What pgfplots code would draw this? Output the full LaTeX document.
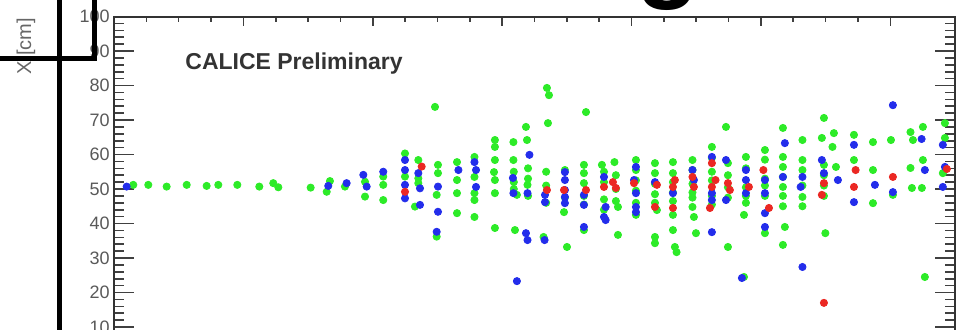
\documentclass[border=0pt]{standalone}
\usepackage{pgfplots}
\pgfplotsset{compat=1.18}
\usepackage{fontspec}
\setmainfont{Liberation Sans}
\definecolor{rgreen}{RGB}{45,235,40}
\definecolor{rblue}{RGB}{35,45,235}
\definecolor{rred}{RGB}{235,40,35}
\begin{document}
\begin{tikzpicture}[x=0.5pt,y=0.5pt]
\begin{scope}
\clip (0,0) rectangle (956,329);
\begin{axis}[
  at={(57pt,-16.25pt)}, anchor=south west,
  width=420.5pt, height=172.5pt, scale only axis,
  xmin=0, xmax=65, ymin=0, ymax=100,
  xtick={0,10,...,60}, minor x tick num=3,
  ytick={0,10,...,100}, minor y tick num=4,
  xticklabel=\empty,
  tick align=inside,
  axis line style={black!80, line width=1pt},
  every tick/.style={black!75, line width=0.8pt},
  xtick style={/pgfplots/major tick length=4.5pt,/pgfplots/minor tick length=2.5pt},
  ytick style={/pgfplots/major tick length=10pt,/pgfplots/minor tick length=5pt},
  /pgf/number format/assume math mode=true,
  yticklabel style={font=\fontsize{9}{9}\selectfont, text=black!65, inner sep=2pt},
  clip=false,
]
\addplot[only marks, mark=*, mark size=1.8pt, color=rgreen, mark options={draw=rgreen, fill=rgreen}] coordinates {
(1.49,51.2) (2.65,51.2) (4.07,50.7) (5.62,51.2) (7.16,50.9) (8.06,51.2) (9.53,51.2) (11.23,50.7) (12.31,51.7) (12.70,50.5)
(15.20,50.4) (16.44,49.2) (16.69,52.3) (17.85,50.7) (19.40,52.1) (19.40,47.8) (20.81,53.6) (20.81,51.2) (20.81,46.8)
(22.49,60.3) (22.49,53.6) (23.52,58.4) (23.52,53.1) (23.52,51.7) (23.26,44.9) (25.04,57.0) (25.04,54.6) (24.94,48.3)
(24.94,36.2) (24.81,73.8) (26.51,57.8) (26.51,52.6) (26.51,48.8) (26.51,43.0) (27.86,59.3) (27.86,53.5) (27.86,48.8)
(27.86,46.8) (27.86,41.9) (29.44,64.2) (29.44,62.2) (29.44,58.4) (29.37,54.9) (29.44,52.6) (29.44,48.8) (29.44,38.7)
(30.87,63.6) (30.87,58.4) (31.14,48.3) (30.99,38.1) (31.84,68.0) (31.92,64.2) (31.96,51.2) (33.46,79.3) (33.62,77.2)
(33.54,69.1) (33.20,36.1) (34.78,43.3) (35.01,33.2) (36.48,72.3) (36.32,54.6) (36.32,51.7) (36.32,38.1) (37.71,57.0)
(38.68,57.8) (38.95,44.8) (38.95,36.7) (40.34,58.4) (41.81,57.5) (41.81,54.6) (41.96,43.9) (41.81,36.1) (41.81,34.3)
(43.20,57.8) (43.20,54.6) (43.20,38.1) (43.35,33.2) (43.48,31.7) (44.71,58.4) (44.71,44.8) (44.82,41.9) (44.98,37.2)
(46.21,62.2) (47.30,68.0) (47.45,33.2) (48.84,59.3) (48.69,42.5) (48.69,24.5) (50.31,61.3) (50.31,37.2) (51.70,67.7)
(51.70,59.3) (51.70,56.4) (51.70,50.6) (51.85,39.0) (51.70,33.8) (53.21,64.2) (53.21,58.4) (53.21,47.7) (54.87,70.6)
(54.71,64.8) (55.53,62.2) (54.87,57.0) (54.98,37.2) (55.80,56.4) (55.64,66.2) (57.19,65.7) (57.19,58.4) (58.66,63.6)
(58.66,55.5) (58.66,45.9) (60.05,64.2) (60.20,48.3) (61.56,66.5) (61.75,64.2) (61.56,56.1) (61.67,50.3) (62.52,68.0)
(62.52,58.4) (62.44,50.3) (62.67,24.5) (64.22,69.1) (64.22,64.8) (64.06,54.6)
(34.85,55.5) (34.85,47.5) (36.32,57.0) (36.32,48.0) (36.32,45.5) (37.87,55.0) (37.87,52.0) (37.87,47.0) (37.87,44.0)
(38.79,54.0) (38.79,50.0) (38.79,46.5) (40.34,55.5) (40.34,52.5) (40.34,49.5) (40.34,46.0) (40.34,42.5)
(41.81,51.5) (41.81,48.5) (41.81,46.0) (43.20,52.0) (43.20,49.0) (43.20,46.5) (43.20,42.5)
(44.71,55.5) (44.71,51.5) (44.71,49.0) (44.71,47.5) (46.21,59.0) (46.21,55.0) (46.21,52.5) (46.21,48.0) (46.21,45.5)
(47.45,57.5) (47.45,54.0) (47.45,50.5) (47.45,47.5) (48.84,56.0) (48.84,50.5) (48.84,48.0) (48.84,46.0)
(50.31,58.5) (50.31,53.0) (50.31,51.0) (50.31,48.0) (51.70,53.5) (51.70,48.0) (51.70,45.0)
(53.21,55.5) (53.21,51.0) (53.21,45.0) (54.87,54.0) (54.87,51.0) (54.87,48.0)
(32.0,56.0) (32.0,53.0) (32.0,48.0) (33.4,55.0) (33.4,51.0) (33.4,46.0) (30.9,55.0) (30.9,52.0) (30.9,50.0)
};
\addplot[only marks, mark=*, mark size=1.8pt, color=rblue, mark options={draw=rblue, fill=rblue}] coordinates {
(0.98,50.7) (16.56,50.9) (17.98,51.7) (19.27,54.1) (19.53,50.7) (20.81,55.0) (22.49,58.4) (22.49,55.5) (22.49,51.2)
(22.49,47.3) (23.52,54.6) (23.65,50.2) (23.65,45.4) (25.04,50.7) (25.04,43.4) (24.94,37.6) (26.62,55.5) (27.86,57.8)
(27.98,55.5) (27.98,50.6) (30.83,53.2) (30.87,48.8) (31.14,23.3) (32.11,59.9) (31.96,48.8) (31.84,37.2) (31.96,35.2)
(33.31,48.3) (33.31,46.2) (33.28,35.2) (34.85,54.9) (34.85,52.6) (34.85,49.7) (34.85,47.7) (34.85,45.9) (36.32,48.3)
(36.32,45.4) (36.32,39.0) (37.87,53.5) (38.00,44.8) (37.87,41.9) (38.00,41.0) (40.34,56.4) (40.19,52.6) (40.34,48.8)
(40.34,44.8) (40.34,43.3) (41.81,52.0) (43.20,48.8) (44.71,55.5) (44.82,52.6) (46.21,59.3) (46.21,48.8) (46.21,46.8)
(46.21,37.5) (47.30,58.4) (47.30,46.8) (48.84,55.5) (48.84,52.6) (48.84,48.8) (48.53,24.2) (50.31,52.6) (50.31,48.8)
(50.31,43.0) (50.31,39.0) (51.85,63.3) (51.70,53.5) (53.21,53.5) (53.07,50.6) (53.21,27.4) (54.71,58.4) (54.87,54.6)
(55.95,52.6) (57.19,62.8) (57.19,46.2) (58.81,51.2) (60.20,74.3) (60.20,49.1) (62.42,64.5) (62.67,55.5) (64.06,62.8)
(64.22,56.4) (64.06,50.6)
};
\addplot[only marks, mark=*, mark size=1.8pt, color=rred, mark options={draw=rred, fill=rred}] coordinates {
(22.49,49.2) (23.78,56.5) (33.46,49.7) (34.78,49.7) (36.48,49.7) (37.87,50.6) (38.56,52.0) (38.79,50.3) (40.19,51.7)
(41.96,51.2) (41.81,44.8) (43.35,52.6) (43.20,50.6) (43.20,44.5) (44.71,53.5) (44.82,50.6) (46.21,57.5) (46.49,52.6)
(46.21,50.6) (46.06,44.5) (47.45,51.7) (47.60,49.7) (49.07,50.6) (50.19,55.5) (50.62,44.5) (54.87,51.7) (54.71,48.3)
(54.87,17.0) (57.32,55.5) (57.19,50.6) (60.20,53.5) (64.37,55.8)
};
\end{axis}
\node[anchor=base west, inner sep=0pt, text=black!80, font=\fontsize{11.5}{11.5}\selectfont\bfseries] at (185,260) {CALICE Preliminary};
\node[anchor=center, rotate=90, inner sep=0pt, text=black!60, font=\fontsize{10}{10}\selectfont] at (26,282.5) {X [cm]};
\node[anchor=base west, inner sep=0pt, font=\fontsize{52}{52}\selectfont\bfseries] at (636,341) {g};
\draw[line width=2.5pt, black] (59.5,-5) -- (59.5,335);
\draw[line width=2.5pt, black] (-5,270.5) -- (94,270.5) -- (94,335);
\end{scope}
\pgfresetboundingbox
\useasboundingbox (0,0) rectangle (956,329);
\end{tikzpicture}
\end{document}
